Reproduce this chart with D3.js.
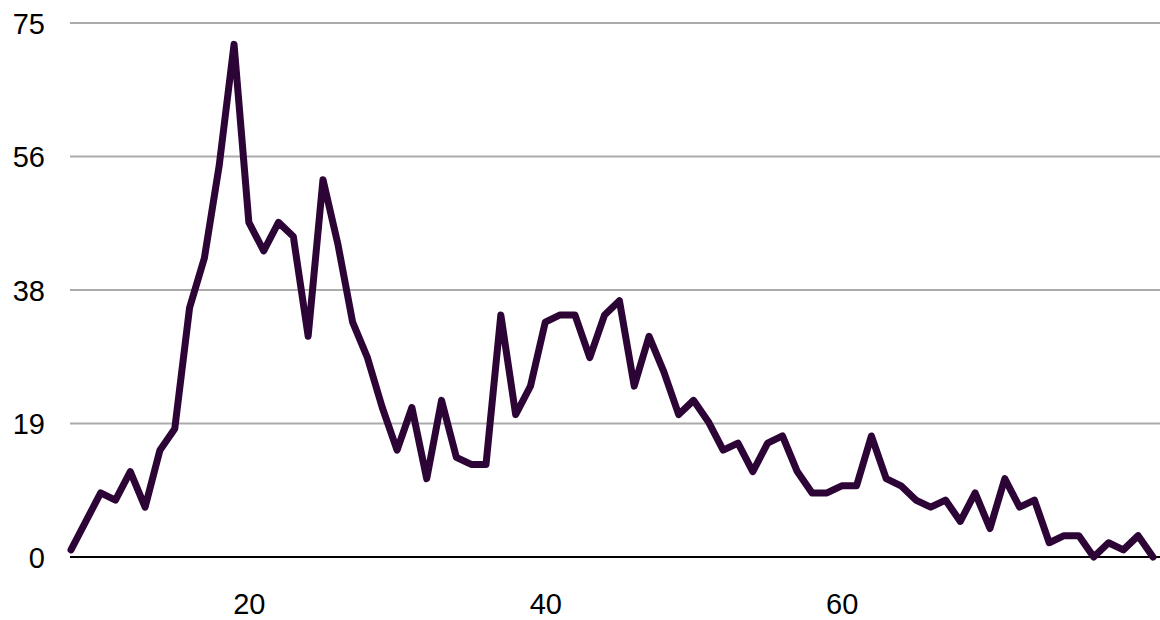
<!DOCTYPE html>
<html>
<head>
<meta charset="utf-8">
<script src="https://cdn.jsdelivr.net/npm/d3@7"></script>
<style>
  html, body { margin: 0; padding: 0; background: #ffffff; }
  svg { display: block; }
  text { font-family: "Liberation Sans", Arial, sans-serif; fill: #000; }
</style>
</head>
<body>
<svg id="chart" width="1160" height="620"></svg>
<script>
// Data
const ages = [8,9,10,11,12,13,14,15,16,17,18,19,20,21,22,23,24,25,26,27,28,29,30,31,32,33,34,35,36,37,38,39,40,41,42,43,44,45,46,47,48,49,50,51,52,53,54,55,56,57,58,59,60,61,62,63,64,65,66,67,68,69,70,71,72,73,74,75,76,77,78,79,80,81];
const counts = [1,5,9,8,12,7,15,18,35,42,55,72,47,43,47,45,31,53,44,33,28,21,15,21,11,22,14,13,13,34,20,24,33,34,34,28,34,36,24,31,26,20,22,19,15,16,12,16,17,12,9,9,10,10,17,11,10,8,7,8,5,9,4,11,7,8,2,3,3,0,2,1,3,0];
const yTicks = [0, 18.75, 37.5, 56.25, 75];
const yTickLabels = ["0", "19", "38", "56", "75"];
const xTicks = [20, 40, 60];

const svg = d3.select("#chart");
const mLeft = 71, mRight = 1153, mTop = 23, mBottom = 557;

const x = d3.scaleLinear().domain([8, 81]).range([mLeft, mRight]);
const y = d3.scaleLinear().domain([0, 75]).range([mBottom, mTop]);

// Gridlines
svg.append("g")
  .selectAll("line")
  .data(yTicks.filter(d => d > 0))
  .join("line")
  .attr("x1", mLeft - 1)
  .attr("x2", 1160)
  .attr("y1", d => y(d))
  .attr("y2", d => y(d))
  .attr("stroke", "#ababab")
  .attr("stroke-width", 2);

// Baseline
svg.append("line")
  .attr("x1", mLeft - 1)
  .attr("x2", 1160)
  .attr("y1", y(0))
  .attr("y2", y(0))
  .attr("stroke", "#000")
  .attr("stroke-width", 2);

// Y labels
const yAxis = d3.axisLeft(y)
  .tickValues(yTicks)
  .tickFormat((d, i) => yTickLabels[i])
  .tickSize(0)
  .tickPadding(0);
const gy = svg.append("g").attr("transform", `translate(45,0)`).call(yAxis);
gy.select(".domain").remove();
gy.selectAll("text")
  .attr("font-size", 29)
  .attr("dy", "0.36em")
  .attr("font-family", "Liberation Sans, Arial, sans-serif")
  .attr("fill", "#000");

// X labels
const xAxis = d3.axisBottom(x)
  .tickValues(xTicks)
  .tickFormat(d3.format("d"))
  .tickSize(0)
  .tickPadding(0);
const gx = svg.append("g").attr("transform", `translate(0,${mBottom + 36})`).call(xAxis);
gx.select(".domain").remove();
gx.selectAll("text")
  .attr("font-size", 29)
  .attr("font-family", "Liberation Sans, Arial, sans-serif")
  .attr("fill", "#000");

// Line
const data = ages.map((a, i) => ({ age: a, count: counts[i] }));
const line = d3.line().x(d => x(d.age)).y(d => y(d.count));
svg.append("path")
  .datum(data)
  .attr("d", line)
  .attr("fill", "none")
  .attr("stroke", "#2d0436")
  .attr("stroke-width", 7)
  .attr("stroke-linejoin", "round")
  .attr("stroke-linecap", "round");
</script>
</body>
</html>
